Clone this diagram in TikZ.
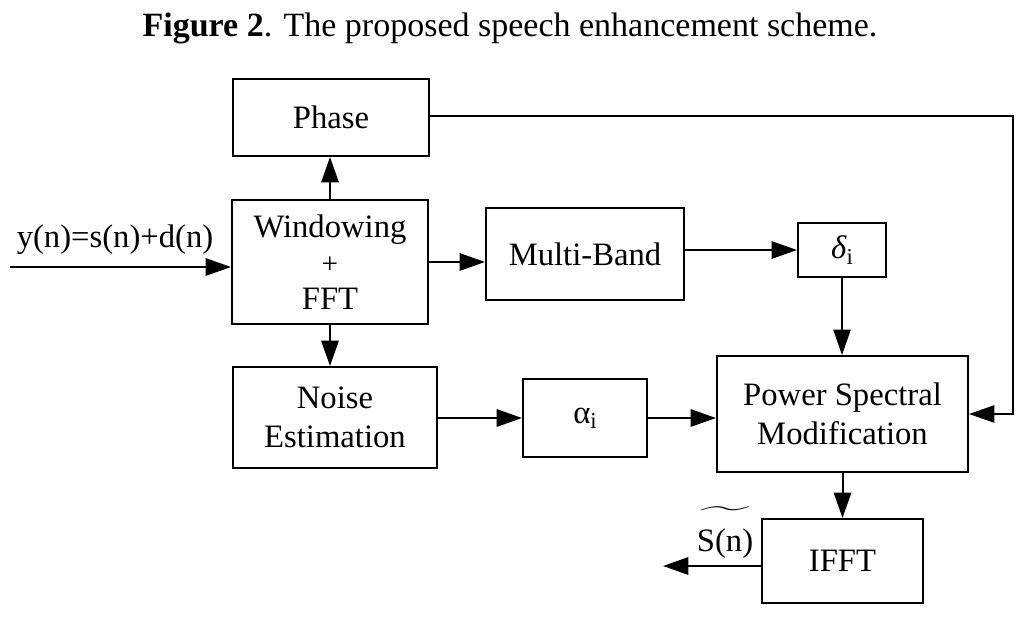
\documentclass[tikz,border=0pt]{standalone}
\usepackage{fontspec}
\setmainfont{Liberation Serif}
\usepackage{amsmath}
\usetikzlibrary{arrows.meta}
\newcommand{\subi}{{\fontsize{17}{17}\selectfont\raisebox{-4pt}{i}}}
\begin{document}
\begin{tikzpicture}[x=0.75pt,y=-0.75pt,
  box/.style n args={2}{draw, line width=1.5pt, inner sep=0pt,
    minimum width={#1*0.75pt}, minimum height={#2*0.75pt}, align=center,
    font=\fontsize{24.5}{29}\selectfont},
  arr/.style={line width=1.5pt, -{Triangle[length=19pt,width=13pt]}},
  thinarr/.style={line width=1pt, -{Triangle[length=19pt,width=13pt]}},
  lbl/.style={font=\fontsize{24.5}{29}\selectfont, inner sep=0pt}]
\useasboundingbox (0,0) rectangle (1024,618);

\node[lbl, font=\fontsize{25.5}{30}\selectfont] (title) at (510,28) {\textbf{Figure 2}. The proposed speech enhancement scheme.};

\node[box={196}{77}] (phase) at (331,117.5) {Phase};
\node[box={196}{124}, font=\fontsize{24.5}{26}\selectfont] (wf) at (330,262)
  {Windowing\\[1pt]{\fontsize{22}{22}\selectfont +}\\[1pt]FFT};
\node[box={198}{92}] (mb) at (585,254) {Multi-Band};
\node[box={88}{54}] (delta) at (842,250) {\textit{δ}\subi};
\node[box={251}{116}] (psm) at (842.5,414) {Power Spectral\\Modification};
\node[box={204}{101}] (ne) at (335,417.5) {Noise\\Estimation};
\node[box={124}{78}] (alpha) at (585,418) {α\subi};
\node[box={161}{84}] (ifft) at (842.5,561) {IFFT};

\node[lbl] (ylbl) at (115,240) {y(n)=s(n)+d(n)};
\node[lbl, anchor=base] (slbl) at (725,551) {$\widetilde{\hbox{\rule{0pt}{25pt}S(n)}}$};

\coordinate (in) at (10,267);
\coordinate (out) at (663,566);
\coordinate (fb) at (1013,116);

\draw[arr] (in) -- (in -| wf.west);
\draw[arr] (wf.north) -- (wf.north |- phase.south);
\draw[arr] (wf.south) -- (wf.south |- ne.north);
\draw[arr] (wf.east) -- (wf.east -| mb.west);
\draw[arr] (delta.west -| mb.east) -- (delta.west);
\draw[thinarr] (delta.south) -- (delta.south |- psm.north);
\draw[arr] (alpha.west -| ne.east) -- (alpha.west);
\draw[arr] (alpha.east) -- (alpha.east -| psm.west);
\draw[arr] (psm.south) -- (psm.south |- ifft.north);
\draw[arr] (out -| ifft.west) -- (out);
\draw[thinarr] (phase.east |- fb) -- (fb) |- (psm.east);
\end{tikzpicture}
\end{document}
